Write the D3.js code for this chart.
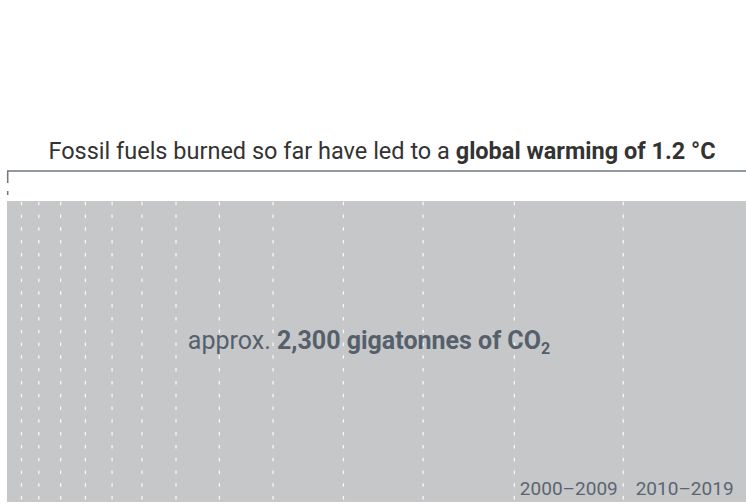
<!DOCTYPE html>
<html>
<head>
<meta charset="utf-8">
<script src="https://cdn.jsdelivr.net/npm/d3@7"></script>
<style>
  body { margin: 0; background: #fff; }
  svg { display: block; font-family: Roboto, sans-serif; }
</style>
</head>
<body>
<div class="budget_wrapper"></div>
<script>
// cumulative CO2 emissions per decade, gigatonnes
const decades = ["1880–1889", "1890–1899", "1900–1909", "1910–1919", "1920–1929", "1930–1939", "1940–1949",
  "1950–1959", "1960–1969", "1970–1979", "1980–1989", "1990–1999", "2000–2009", "2010–2019"]
const emissions = [45, 54, 68, 77, 83, 93, 106, 135, 167, 219, 248, 284, 339, 382]
const labelled = ["2000–2009", "2010–2019"]
const total = 2300
const warming = 1.2

function drawBudget () {

  let dimensions = {
    width: 746,
    height: 504,
    margin: {
      top: 201,
      right: 0,
      bottom: 2,
      left: 7,
    },
  }
  dimensions.boundedWidth = dimensions.width
    - dimensions.margin.left
    - dimensions.margin.right
  dimensions.boundedHeight = dimensions.height
    - dimensions.margin.top
    - dimensions.margin.bottom

  const wrapper = d3.select(".budget_wrapper")
    .append("svg")
      .attr("width", dimensions.width)
      .attr("height", dimensions.height)

  const bounds = wrapper.append("g")
    .attr("transform", `translate(${dimensions.margin.left},${dimensions.margin.top})`)

  // running totals -> segment starts/ends
  let acc = 0
  const segments = decades.map((d, i) => {
    const s = { decade: d, start: acc, value: emissions[i] }
    acc += emissions[i]
    s.end = acc
    return s
  })

  const xScale = d3.scaleLinear()
    .domain([0, d3.sum(emissions)])
    .range([0, dimensions.boundedWidth])

  // grey block
  bounds.selectAll(".segment")
    .data(segments)
    .enter()
    .append("rect")
      .attr("class", "segment")
      .attr("x", d => xScale(d.start))
      .attr("width", d => xScale(d.end) - xScale(d.start) + 0.5)
      .attr("y", 0)
      .attr("height", dimensions.boundedHeight)
      .attr("fill", "#c6c7c9")

  // dashed decade dividers
  bounds.selectAll(".divider")
    .data(segments.slice(0, -1))
    .enter()
    .append("line")
      .attr("x1", d => xScale(d.end))
      .attr("x2", d => xScale(d.end))
      .attr("y1", 0)
      .attr("y2", dimensions.boundedHeight)
      .attr("stroke", "#fff")
      .attr("stroke-opacity", 0.85)
      .attr("stroke-width", 1.3)
      .attr("stroke-dasharray", "3.5,9.3")
      .attr("stroke-dashoffset", -0.7)

  // decade labels
  bounds.selectAll(".decade_label")
    .data(segments.filter(d => labelled.includes(d.decade)))
    .enter()
    .append("text")
      .attr("x", d => xScale((d.start + d.end) / 2))
      .attr("y", 294)
      .attr("text-anchor", "middle")
      .attr("fill", "#5b6570")
      .style("font-size", "19px")
      .text(d => d.decade)

  // total label
  const totalLabel = bounds.append("text")
    .attr("x", 362)
    .attr("y", 147.5)
    .attr("text-anchor", "middle")
    .attr("fill", "#55606b")
    .style("font-size", "25px")
  totalLabel.append("tspan").text("approx. ")
  totalLabel.append("tspan").attr("font-weight", "bold").text(`${d3.format(",")(total)} gigatonnes of CO`)
  totalLabel.append("tspan")
    .attr("font-weight", "bold")
    .attr("dy", 5)
    .style("font-size", "16px")
    .text("2")

  // bracket above the block
  const bracketY = -30
  bounds.append("line")
    .attr("x1", 0)
    .attr("x2", dimensions.boundedWidth)
    .attr("y1", bracketY)
    .attr("y2", bracketY)
    .attr("stroke", "#6e7782")
    .attr("stroke-width", 1.5)
  bounds.append("line")
    .attr("x1", 0.7)
    .attr("x2", 0.7)
    .attr("y1", bracketY)
    .attr("y2", -6)
    .attr("stroke", "#6e7782")
    .attr("stroke-width", 1.5)
    .attr("stroke-dasharray", "12,8")

  const title = bounds.append("text")
    .attr("x", 375)
    .attr("y", -42)
    .attr("text-anchor", "middle")
    .attr("fill", "#333")
    .style("font-size", "23.5px")
  title.append("tspan").text("Fossil fuels burned so far have led to a ")
  title.append("tspan").attr("font-weight", "bold").text(`global warming of ${warming} °C`)
}
drawBudget()
</script>
</body>
</html>
